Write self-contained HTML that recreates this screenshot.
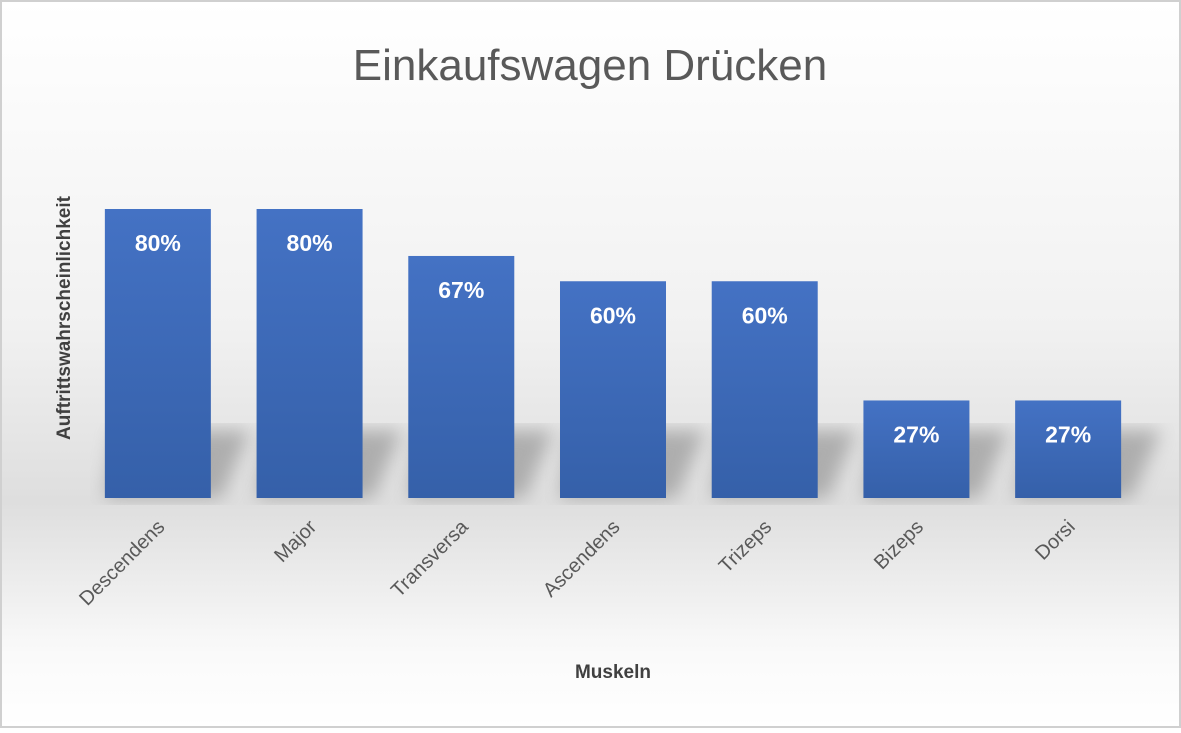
<!DOCTYPE html>
<html><head><meta charset="utf-8"><style>
body{margin:0;width:1181px;height:728px;overflow:hidden;font-family:"Liberation Sans",sans-serif}
</style></head><body>
<svg width="1181" height="728">
<defs>
<linearGradient id="bg" x1="0" y1="0" x2="0" y2="1">
<stop offset="0" stop-color="#ffffff"/><stop offset="0.45" stop-color="#f1f1f1"/><stop offset="0.69" stop-color="#dedede"/><stop offset="0.9" stop-color="#fafafa"/><stop offset="1" stop-color="#ffffff"/>
</linearGradient>
<linearGradient id="bar" x1="0" y1="0" x2="0" y2="1"><stop offset="0" stop-color="#4472c4"/><stop offset="1" stop-color="#3560a9"/></linearGradient>
<filter id="blur"><feGaussianBlur stdDeviation="9"/></filter>
</defs>
<rect x="1" y="1" width="1179" height="726" fill="url(#bg)" stroke="#d0d0d0" stroke-width="2"/>
<text x="590" y="80" text-anchor="middle" font-size="44" fill="#595959">Einkaufswagen Drücken</text>
<text transform="translate(70,318) rotate(-90)" text-anchor="middle" font-size="19" font-weight="bold" fill="#404040">Auftrittswahrscheinlichkeit</text>
<text x="613" y="678" text-anchor="middle" font-size="19" font-weight="bold" fill="#404040">Muskeln</text>
<g id="shadows"></g>
<g id="bars"></g>
</svg>
<script>
const categories=["Descendens","Major","Transversa","Ascendens","Trizeps","Bizeps","Dorsi"];
const values=[80,80,67,60,60,27,27];
const labels=["80%","80%","67%","60%","60%","27%","27%"];
const ns="http://www.w3.org/2000/svg";
const x0=82,x1=1144,yBase=498,pxPer=3.6125;
const band=(x1-x0)/categories.length,bw=106;
const xs=i=>x0+band*i+band/2;
const ys=v=>yBase-v*pxPer;
const g=document.getElementById('bars'),sg=document.getElementById('shadows');
categories.forEach((c,i)=>{
 const cx=xs(i),top=ys(values[i]);
 const sh=document.createElementNS(ns,'polygon');
 const st=Math.max(top,430);
 sh.setAttribute('points',`${cx-bw/2+10},${st} ${cx+bw/2+40},${st} ${cx+bw/2+10},${yBase} ${cx-bw/2},${yBase}`);
 sh.setAttribute('fill','#8a8a8a');sh.setAttribute('opacity','0.6');sh.setAttribute('filter','url(#blur)');
 
 
 sg.appendChild(sh);
 const r=document.createElementNS(ns,'rect');
 r.setAttribute('x',cx-bw/2);r.setAttribute('y',top);r.setAttribute('width',bw);r.setAttribute('height',yBase-top);r.setAttribute('fill','url(#bar)');
 
 
 g.appendChild(r);
 const t=document.createElementNS(ns,'text');
 t.setAttribute('x',cx);t.setAttribute('y',top+42);t.setAttribute('text-anchor','middle');t.setAttribute('font-size','23');t.setAttribute('font-weight','bold');t.setAttribute('fill','#fff');
 t.textContent=labels[i];
 
 
 g.appendChild(t);
 const l=document.createElementNS(ns,'text');
 l.setAttribute('transform',`translate(${cx+8},${yBase+30}) rotate(-45)`);l.setAttribute('text-anchor','end');l.setAttribute('font-size','20');l.setAttribute('fill','#595959');
 l.textContent=c;
 
 
 g.appendChild(l);
});
</script>
</body></html>
